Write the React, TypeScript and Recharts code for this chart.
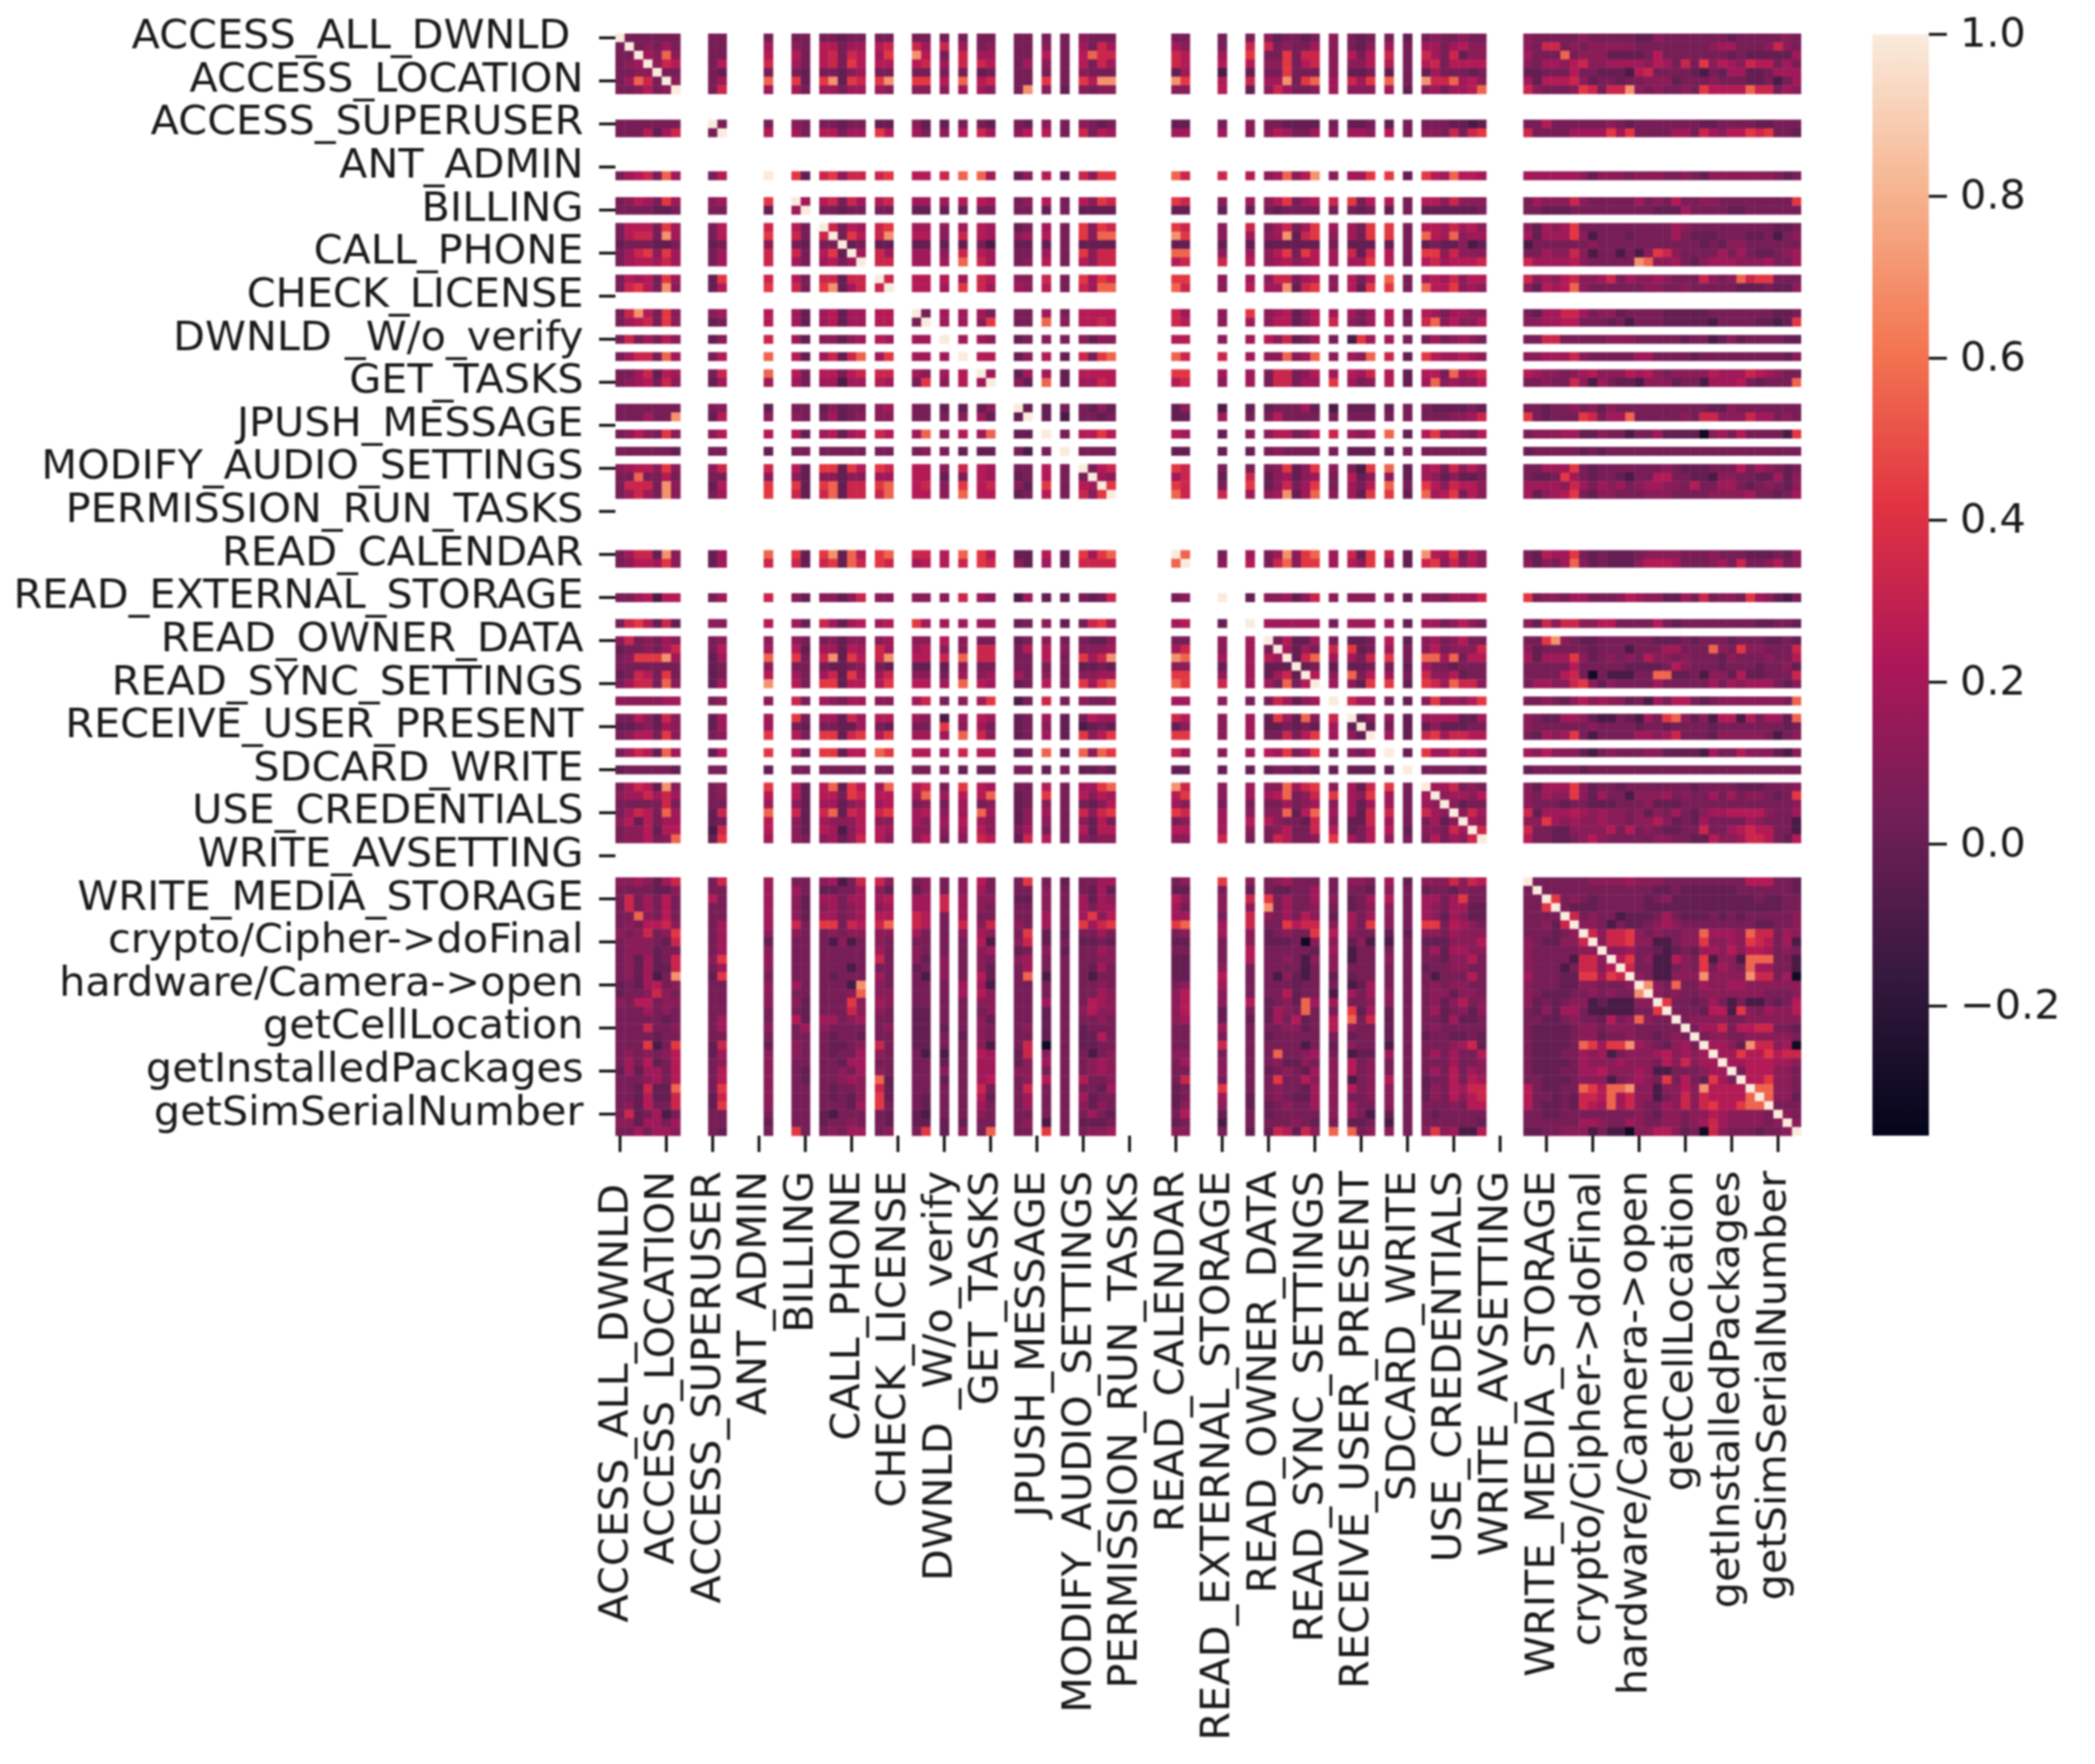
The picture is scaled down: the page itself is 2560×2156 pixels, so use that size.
import { Bar, BarChart, Scatter, ScatterChart, XAxis, YAxis } from "recharts";

const tickLabels = [
  "ACCESS_ALL_DWNLD ", "ACCESS_LOCATION", "ACCESS_SUPERUSER", "ANT_ADMIN", "BILLING", "CALL_PHONE",
  "CHECK_LICENSE", "DWNLD _W/o_verify", "GET_TASKS", "JPUSH_MESSAGE", "MODIFY_AUDIO_SETTINGS",
  "PERMISSION_RUN_TASKS", "READ_CALENDAR", "READ_EXTERNAL_STORAGE", "READ_OWNER_DATA", "READ_SYNC_SETTINGS",
  "RECEIVE_USER_PRESENT", "SDCARD_WRITE", "USE_CREDENTIALS", "WRITE_AVSETTING", "WRITE_MEDIA_STORAGE",
  "crypto/Cipher->doFinal", "hardware/Camera->open", "getCellLocation", "getInstalledPackages", "getSimSerialNumber",
];

const cellCount = 128;

// indices that are not all-NaN; every other row and column stays blank
const presentIndices = [
  0, 1, 2, 3, 4, 5, 6, 10, 11, 16, 19, 20, 22, 23, 24, 25, 26, 28, 29, 32, 33, 35, 37, 39, 40, 43, 44, 46, 48,
  50, 51, 52, 53, 60, 61, 65, 68, 70, 71, 72, 73, 74, 75, 77, 79, 80, 81, 83, 85, 87, 88, 89, 90, 91, 92, 93,
  98, 99, 100, 101, 102, 103, 104, 105, 106, 107, 108, 109, 110, 111, 112, 113, 114, 115, 116, 117, 118, 119,
  120, 121, 122, 123, 124, 125, 126, 127,
];

// one character per cell
const levelValues: Record<string, number> = {
  "0": -0.3, "1": -0.1, "2": -0.01, "3": 0.05, "4": 0.11, "5": 0.18, "6": 0.25, "7": 0.33, "8": 0.43, "9": 0.56, A: 0.7, F: 1,
};

// upper triangle of the symmetric matrix, each row starts at its diagonal cell
const upperRows = [
  "F333333 33 3 33 33233 33 33 3 3 33 33 3 3 4333 33 3 3 423323 4 323 3 2 3433433 433333433333224333333323333343",
  "F34353 33 5 43 66355 67 75 7 5 34 33 4 3 5375 54 3 7 734335 4 324 5 3 5535644 437734344444333333334553334743",
  "F5494 33 6 63 67376 58 A6 3 7 55 33 6 3 6977 76 5 8 338377 4 636 7 3 7537244 533393444222236333333323222225",
  "F476 36 7 53 67386 66 67 5 7 76 35 4 3 6375 76 6 6 448367 4 446 6 3 6736666 435546744555546537384654766353",
  "F33 32 3 32 33245 33 33 3 3 23 33 3 3 4333 25 1 2 338333 4 223 2 3 2533323 223336332221673333213255223555",
  "F4 35 9 82 8A287 8A 88 6 9 67 33 8 3 86AA A8 6 7 55A389 5 758 9 3 A779564 526667423323344423334333223135",
  "F 37 5 53 55355 54 44 4 5 54 3A 4 2 4344 44 6 2 475334 5 444 5 2 4535569 743334873 77A 434 334 38 6666 977 354",
  "F3 3 43 33233 22 42 2 3 32 32 4 3 4323 22 3 4 332222 3 223 2 3 3332212 336333333432333333322333322333",
  "F 6 53 66355 86 53 4 6 75 46 6 3 7365 55 5 4 465335 4 554 6 3 4437378 733335555858333355375466878332",
  "F 82 78477 78 66 7 9 95 24 6 2 7488 97 7 6 45946A 4 558 8 2 8659665 555555424443444334324444444323",
  "F5 67375 67 55 5 6 65 34 6 3 6487 87 4 5 468356 7 836 6 3 6647444 354447433333534363344333333338",
  "F 33233 33 22 2 2 33 33 2 3 2222 22 2 2 323333 3 323 2 3 2222223 332223333333332225333322333333",
  "F7365 78 55 4 5 65 23 5 3 8487 87 4 7 357358 5 538 8 3 6657564 425458333333333354333333333223",
  "F386 7A 66 4 7 65 45 6 3 8499 A8 4 5 45A278 4 538 8 3 9659455 525558 41 333 2 3333 53 222 333 22 3 1 34",
  "F23 22 22 2 2 31 22 2 3 2222 22 2 2 222222 3 222 2 3 2322412 133333343333333333323244333333",
  "F5 75 55 4 7 65 33 5 3 8477 99 4 5 468386 5 727 6 3 8847444 335447413313148743333535322345",
  "F 77 55 5 9 75 34 6 3 6477 67 7 6 456456 5 558 6 3 6756667 755556433333A94453245554445335",
  "F7 66 6 5 76 44 7 3 8587 88 4 5 477356 4 636 9 3 5657466 745467445735445433374349788333",
  "F 66 5 8 75 54 6 3 7599 97 4 6 55A278 4 628 8 3 9668454 426569433333344334333332223224",
  "F3 5 5 53 33 5 3 6666 75 4 8 456246 5 535 6 3 6535544 325577534423333222223333333223",
  "F 5 5 48 33 9 4 6676 76 4 5 466246 7 435 6 3 7946446 445566333231333222221333322128",
  "F 5 54 23 4 3 4244 66 4 5 647235 3 185 5 3 3534543 337733333444333332331242333322",
  "F 66 24 6 2 7389 97 7 5 449459 4 549 7 2 8655654 445557433333553333233333333324",
  "F5 25 5 2 6666 88 5 5 377346 5 657 6 2 6639567 654434564446564344446555765433",
  "F 42 9 2 5576 67 4 5 377355 8 534 6 2 5945446 334337415322144423315556323339",
  "F2 2 3 3242 24 1 2 233352 1 222 2 3 3222232 332334342433333333332243333333",
  "F 2 1 3323 22 5 3 363333 3 333 3 3 3334457 832333873559333334377444755343",
  "F 3 6686 65 2 4 466346 7 545 9 2 6845436 344455224331335222204536333318",
  "F 3333 22 2 2 343333 3 222 2 3 3333333 233333232 333333333333333333333",
  "F367 87 3 3 348248 4 318 9 2 5637464 335558323333333432223336354323",
  "F54 57 2 7 245245 3 624 4 2 5424223 322385323321336633221443322524",
  "F8 87 3 8 247358 3 536 9 3 8647664 555547535453455443633553234324",
  "F 97 7 5 45A259 4 528 8 2 9568364 524568324433344433334444533235",
  "F9 3 5 35A489 5 728 7 2 A658364 326558323222344443334333222324",
  "F 4 6 379488 5 648 5 2 7847464 424359423222466653334537334634",
  "F 2 445247 4 444 4 2 4435557 834435533346544225373443854213",
  "F 555555 3 555 5 2 5534643 427477446633336323333333322332",
  "F36225 3 223 6 2 4534633 338A43223333332223233323332232",
  "F5253 7 823 5 3 4634447 423333323331333553339438443337",
  "F279 5 537 8 3 9959366 525558423434364434333243334336",
  "F23 2 223 3 2 5332333 333336333332222364333233323342",
  "F6 4 936 5 3 7446233 333367303111339922314426223337",
  "F 5 428 8 2 8759774 355447842433335333335354555324",
  "F 755 3 2 4845468 33432 46 45 44 23 15 3 66 32 3 4444444 39",
  "F24 4 2 5555225 432255421132153894241661635529",
  "F2 3 2 2422233 433333343333233233332333333323",
  "F 5 2 7857766 325458313333554573332444443134",
  "F 2 8557564 546444213433344222215336444214",
  "F 3333323 2333332 33333333333333333333333",
  "F557343 425558423323333333233332223334",
  "F45546 435448425331444534335353443238",
  "F4233 433323322233342223333333333334",
  "F475 725556545443424353245566664335",
  "F54 448545445443446423253333543331",
  "F7 733224444636343223373356766331",
  "F 633223464333334433226445776326",
  "F 333333 4444 5 444 333333333 666 332",
  "F 333333333333 22 3 222222 333333 2",
  "F8 34323333323422222222232233",
  "F 3222 33333 222222222222222 33",
  "F7 343312223532223232333334",
  "F 443132234543333333322334",
  "F 74778434334495554977354",
  "F 4778441134484454876351",
  "F 445332123255464665343",
  "F 68341164381441999331",
  "F 7331134383543955331",
  "F 431144 4A 4444 A77 350",
  "F A4393354455444444",
  "F 4343344444443334",
  "F 833235313113236",
  "F 33326618435446",
  "F 3444433444444",
  "F 355736677332",
  "F 34433444443",
  "F 5542A77450",
  "F 558668677",
  "F 55666554",
  "F 3666443",
  "F 668443",
  "F 99443",
  "F 9442",
  "F 333",
  "F 43",
  "F 4",
  "F",
];

const colorbarMin = -0.36;
const colorbarMax = 1;
const colorbarTicks = [1, 0.8, 0.6, 0.4, 0.2, 0, -0.2];

// rocket colormap
const rocketStops = ["#03051a", "#35193e", "#701f57", "#ad1759", "#e13342", "#f37651", "#f6b48f", "#faebdd"];

const FONT = '"DejaVu Sans", sans-serif';
const LABEL_SIZE = 50.6;
const PLOT_LEFT = 752;
const PLOT_TOP = 41;
const PLOT_WIDTH = 1449;
const PLOT_HEIGHT = 1347;
const CELL_W = PLOT_WIDTH / cellCount;
const CELL_H = PLOT_HEIGHT / cellCount;

const hexToRgb = (hex: string) => [1, 3, 5].map((i) => parseInt(hex.slice(i, i + 2), 16));

const rocket = (value: number) => {
  const t = Math.min(1, Math.max(0, (value - colorbarMin) / (colorbarMax - colorbarMin))) * (rocketStops.length - 1);
  const i = Math.min(rocketStops.length - 2, Math.floor(t));
  const a = hexToRgb(rocketStops[i]);
  const b = hexToRgb(rocketStops[i + 1]);
  const c = a.map((v, k) => Math.round(v + (b[k] - v) * (t - i)));
  return `rgb(${c[0]},${c[1]},${c[2]})`;
};

const cells: { x: number; y: number; value: number }[] = [];
upperRows.forEach((text, i) => {
  const row = text.replace(/ /g, "");
  for (let j = i; j < presentIndices.length; j++) {
    const value = levelValues[row[j - i]];
    if (value === undefined) continue;
    cells.push({ x: presentIndices[j] + 0.5, y: presentIndices[i] + 0.5, value });
    if (i !== j) cells.push({ x: presentIndices[i] + 0.5, y: presentIndices[j] + 0.5, value });
  }
});

const tickValues = tickLabels.map((_, i) => i * 5 + 0.5);
const labelAt = (value: number) => tickLabels[Math.round((value - 0.5) / 5)];

const HeatCell = (props: any) => (
  <rect
    x={props.cx - CELL_W / 2}
    y={props.cy - CELL_H / 2}
    width={CELL_W + 0.4}
    height={CELL_H + 0.4}
    fill={rocket(props.payload.value)}
  />
);

const XTick = ({ x, payload }: any) => (
  <text
    transform={`translate(${x + 9},${1431}) rotate(-90)`}
    textAnchor="end"
    fontSize={LABEL_SIZE}
    fontFamily={FONT}
    fill="#1a1a1a"
    style={{ whiteSpace: "pre" }}
  >
    {labelAt(payload.value)}
  </text>
);

const YTick = ({ y, payload }: any) => (
  <text
    x={713}
    y={y + 13}
    textAnchor="end"
    fontSize={LABEL_SIZE}
    fontFamily={FONT}
    fill="#1a1a1a"
    style={{ whiteSpace: "pre" }}
  >
    {labelAt(payload.value)}
  </text>
);

export default function App() {
  return (
    <div
      style={{
        position: "absolute",
        left: 0,
        top: 0,
        width: 2560,
        height: 2156,
        background: "#fff",
        overflow: "hidden",
        filter: "blur(1px)",
      }}
    >
      <div style={{ position: "absolute", left: 0, top: 0 }}>
        <ScatterChart
          width={PLOT_LEFT + PLOT_WIDTH}
          height={2156}
          margin={{ top: PLOT_TOP, left: 0, right: 0, bottom: 0 }}
        >
          <XAxis
            type="number"
            dataKey="x"
            domain={[0, cellCount]}
            ticks={tickValues}
            interval={0}
            height={2156 - PLOT_TOP - PLOT_HEIGHT}
            axisLine={false}
            tickSize={20}
            tickLine={{ stroke: "#111", strokeWidth: 3.5 }}
            tick={<XTick />}
          />
          <YAxis
            type="number"
            dataKey="y"
            reversed
            domain={[0, cellCount]}
            ticks={tickValues}
            interval={0}
            width={PLOT_LEFT}
            axisLine={false}
            tickSize={20}
            tickLine={{ stroke: "#111", strokeWidth: 3.5 }}
            tick={<YTick />}
          />
          <Scatter data={cells} shape={<HeatCell />} isAnimationActive={false} />
        </ScatterChart>
      </div>
      <div style={{ position: "absolute", left: 2288, top: 0 }}>
        <BarChart
          width={272}
          height={1440}
          data={[{ name: "colorbar", range: [colorbarMin, colorbarMax] }]}
          margin={{ top: 42, left: 0, right: 0, bottom: 52 }}
          barCategoryGap={0}
        >
          <defs>
            <linearGradient id="rocketBar" x1="0" y1="0" x2="0" y2="1">
              {rocketStops.map((color, i) => (
                <stop key={color} offset={1 - i / (rocketStops.length - 1)} stopColor={color} />
              )).reverse()}
            </linearGradient>
          </defs>
          <XAxis dataKey="name" hide />
          <YAxis
            orientation="right"
            type="number"
            width={203}
            domain={[colorbarMin, colorbarMax]}
            ticks={colorbarTicks}
            interval={0}
            allowDataOverflow
            axisLine={false}
            tickSize={22}
            tickMargin={16}
            tickLine={{ stroke: "#111", strokeWidth: 3.5 }}
            tick={{ fontSize: LABEL_SIZE, fontFamily: FONT, fill: "#1a1a1a", dy: -3 }}
            tickFormatter={(v: number) => (v < 0 ? `\u2212${Math.abs(v).toFixed(1)}` : v.toFixed(1))}
          />
          <Bar dataKey="range" fill="url(#rocketBar)" isAnimationActive={false} />
        </BarChart>
      </div>
    </div>
  );
}
